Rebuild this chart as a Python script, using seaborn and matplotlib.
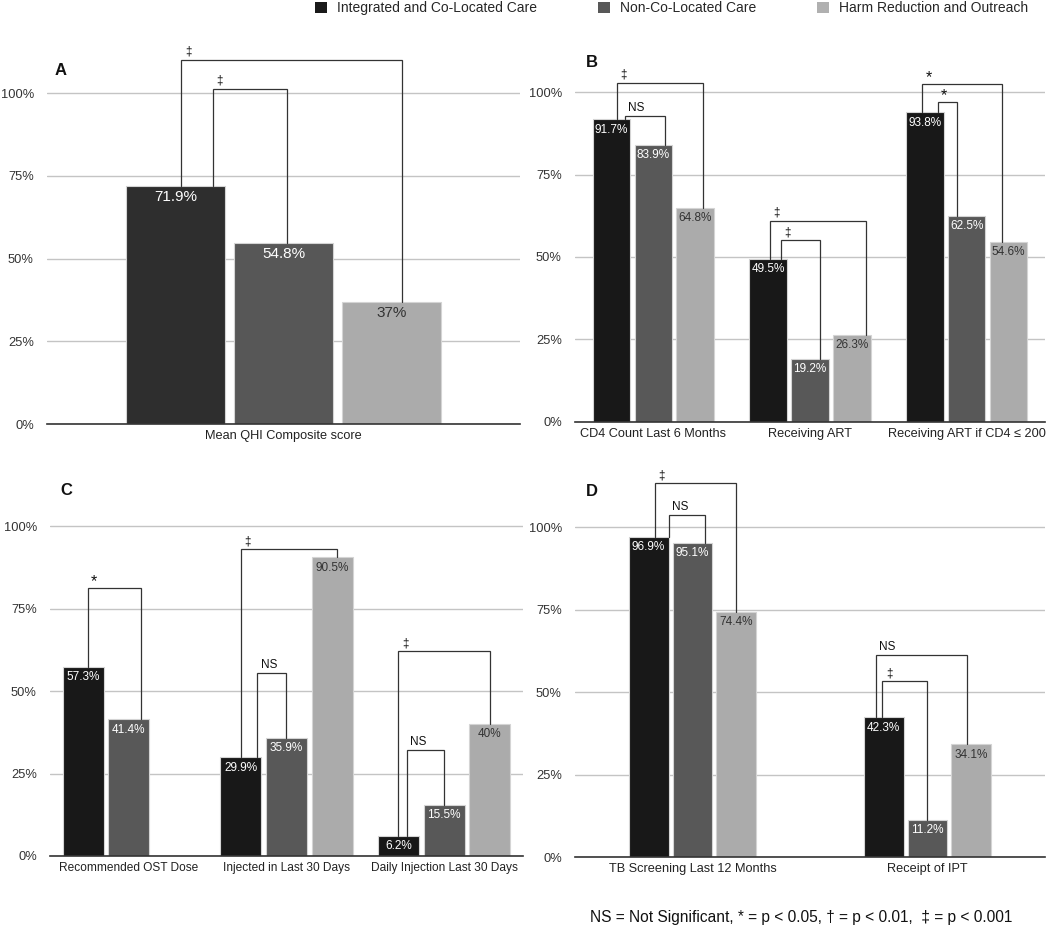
import numpy as np
import pandas as pd
import matplotlib
matplotlib.use('Agg')
import matplotlib.pyplot as plt
import seaborn as sns
from matplotlib.patches import Patch

# chart data (percent)
groups = ["Integrated and Co-Located Care", "Non-Co-Located Care", "Harm Reduction and Outreach"]

a_cats = ["Mean QHI Composite score"]
a_integrated = [71.9]
a_noncolocated = [54.8]
a_harm = [37.0]

b_cats = ["CD4 Count Last 6 Months", "Receiving ART", "Receiving ART if CD4 \u2264 200"]
b_integrated = [91.7, 49.5, 93.8]
b_noncolocated = [83.9, 19.2, 62.5]
b_harm = [64.8, 26.3, 54.6]

c_cats = ["Recommended OST Dose", "Injected in Last 30 Days", "Daily Injection Last 30 Days"]
c_integrated = [57.3, 29.9, 6.2]
c_noncolocated = [41.4, 35.9, 15.5]
c_harm = [np.nan, 90.5, 40.0]

d_cats = ["TB Screening Last 12 Months", "Receipt of IPT"]
d_integrated = [96.9, 42.3]
d_noncolocated = [95.1, 11.2]
d_harm = [74.4, 34.1]

# significance brackets: (category, bar a, bar b, level, symbol)
a_sig = [(0, 0, 2, 110.0, "\u2021"), (0, 0, 1, 101.2, "\u2021")]
b_sig = [(0, 0, 2, 102.8, "\u2021"), (0, 0, 1, 92.8, "NS"),
         (1, 0, 2, 60.9, "\u2021"), (1, 0, 1, 55.1, "\u2021"),
         (2, 0, 2, 102.4, "*"), (2, 0, 1, 97.0, "*")]
c_sig = [(0, 0, 1, 81.2, "*"), (1, 0, 2, 93.0, "\u2021"), (1, 0, 1, 55.5, "NS"),
         (2, 0, 2, 62.1, "\u2021"), (2, 0, 1, 32.1, "NS")]
d_sig = [(0, 0, 2, 113.3, "\u2021"), (0, 0, 1, 103.6, "NS"),
         (1, 0, 2, 61.2, "NS"), (1, 0, 1, 53.3, "\u2021")]

# bracket leg offsets, as fraction of bar width from bar centre
a_legs = [(0.06, 0.11), (0.38, 0.03)]
b_legs = [(0.15, 0.2), (0.35, 0.32), (0.04, 0.38), (0.33, 0.26), (-0.08, -0.18), (0.34, -0.25)]
c_legs = [(0.11, 0.29), (0.0, 0.11), (0.4, 0.0), (0.0, 0.0), (0.2, 0.0)]
d_legs = [(0.15, 0.0), (0.5, 0.31), (-0.2, -0.12), (-0.03, 0.0)]

sns.set_style("white")
plt.rcParams['font.family'] = ['Liberation Sans', 'DejaVu Sans']

LINE = '#333333'
GRID = '#c4c4c4'
LIGHT_TXT = '#333333'


def make_frame(cats, integ, nonco, harm):
    rows = []
    for g, vals in zip(groups, [integ, nonco, harm]):
        for c, v in zip(cats, vals):
            rows.append({'category': c, 'group': g, 'value': v})
    return pd.DataFrame(rows)


def draw_panel(ax, cats, integ, nonco, harm, sig, legs, letter, letter_pos,
               palette, width, gap, label_size, cat_size=9.2):
    df = make_frame(cats, integ, nonco, harm)
    sns.barplot(data=df, x='category', y='value', hue='group', order=cats,
                hue_order=groups, palette=palette, width=width, gap=gap,
                saturation=1, errorbar=None, legend=False, ax=ax,
                edgecolor='#d4d4d4', linewidth=0.8)
    ax.set_xlim(-0.5, len(cats) - 0.5)
    ax.set_ylim(0, 120)
    ax.set_yticks([0, 25, 50, 75, 100])
    ax.set_yticklabels([f"{t}%" for t in [0, 25, 50, 75, 100]])
    ax.set_axisbelow(True)
    ax.yaxis.grid(True, color=GRID, lw=1.0)
    ax.xaxis.grid(False)
    for s in ['top', 'right', 'left']:
        ax.spines[s].set_visible(False)
    ax.spines['bottom'].set_color(LINE)
    ax.spines['bottom'].set_linewidth(1.2)
    ax.tick_params(axis='y', length=0, pad=9.5, labelsize=9.3, labelcolor='#333333')
    ax.tick_params(axis='x', length=0, pad=4, labelsize=cat_size, labelcolor='#222222')
    ax.set_xlabel('')
    ax.set_ylabel('')

    # locate bars: (category, hue) -> rectangle
    bars = {}
    for h, cont in enumerate(ax.containers):
        for rect in cont:
            if np.isnan(rect.get_height()):
                continue
            cx = rect.get_x() + rect.get_width() / 2
            bars[(int(round(cx)), h)] = rect

    for (c, h), rect in bars.items():
        v = rect.get_height()
        cx = rect.get_x() + rect.get_width() / 2
        col = 'white' if h < 2 else LIGHT_TXT
        ax.annotate(f"{v:g}%", (cx, v), xytext=(0, -3), textcoords='offset points',
                    ha='center', va='top', fontsize=label_size, color=col)

    for (c, a, b, level, sym), (oa, ob) in zip(sig, legs):
        ra, rb = bars[(c, a)], bars[(c, b)]
        xa = ra.get_x() + ra.get_width() * (0.5 + oa)
        xb = rb.get_x() + rb.get_width() * (0.5 + ob)
        ax.plot([xa, xa, xb, xb], [ra.get_height(), level, level, rb.get_height()],
                color=LINE, lw=0.9, clip_on=False, solid_joinstyle='miter')
        fs = 11.5 if sym == '*' else 8.5
        dy = -1 if sym == '*' else 1.5
        ax.annotate(sym, (xa, level), xytext=(2.5, dy), textcoords='offset points',
                    ha='left', va='bottom', fontsize=fs, color='#111111')

    ax.text(letter_pos[0], letter_pos[1], letter, transform=ax.transAxes,
            fontsize=12, fontweight='bold', ha='left', va='center', color='#111111')


fig = plt.figure(figsize=(10.5, 9.26), dpi=100)
ax_a = fig.add_axes([0.0448, 0.5421, 0.4505, 0.4289])
ax_b = fig.add_axes([0.5476, 0.5443, 0.4476, 0.4276])
ax_c = fig.add_axes([0.0476, 0.0756, 0.4505, 0.4276])
ax_d = fig.add_axes([0.5476, 0.0745, 0.4476, 0.4276])

pal_a = ['#2e2e2e', '#575757', '#ababab']
pal = ['#181818', '#585858', '#ababab']

draw_panel(ax_a, a_cats, a_integrated, a_noncolocated, a_harm, a_sig, a_legs,
           'A', (0.015, 0.891), pal_a, 0.685, 0.09, 11)
draw_panel(ax_b, b_cats, b_integrated, b_noncolocated, b_harm, b_sig, b_legs,
           'B', (0.024, 0.909), pal, 0.8, 0.1, 8.5)
draw_panel(ax_c, c_cats, c_integrated, c_noncolocated, c_harm, c_sig, c_legs,
           'C', (0.022, 0.922), pal, 0.87, 0.1, 8.5, cat_size=8.6)
draw_panel(ax_d, d_cats, d_integrated, d_noncolocated, d_harm, d_sig, d_legs,
           'D', (0.024, 0.924), pal, 0.56, 0.09, 8.5)

handles = [Patch(facecolor=c, edgecolor='none', label=g)
           for c, g in zip(['#1a1a1a', '#585858', '#b0b0b0'], groups)]
fig.legend(handles=handles, loc='upper right', bbox_to_anchor=(0.979, 0.9985), ncol=3,
           frameon=False, fontsize=10, handlelength=0.85, handleheight=0.85,
           handletextpad=0.72, columnspacing=4.4, borderpad=0, borderaxespad=0)

fig.text(0.763, 0.0097, "NS = Not Significant, * = p < 0.05, \u2020 = p < 0.01,  \u2021 = p < 0.001",
         ha='center', va='center', fontsize=11.2, color='#111111')

fig.savefig('out.png', dpi=100)
